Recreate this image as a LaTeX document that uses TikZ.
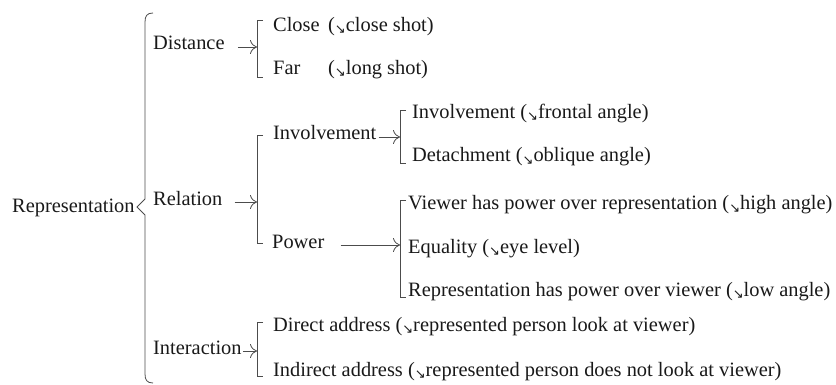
\documentclass[tikz,border=0pt]{standalone}
\usepackage{fontspec}
\setmainfont{LiberationSerif}[Extension=.ttf, UprightFont=*-Regular, BoldFont=*-Bold, ItalicFont=*-Italic, BoldItalicFont=*-BoldItalic]
\newfontfamily\dejavu{DejaVu Sans}
\usetikzlibrary{arrows.meta}
\newcommand{\sarr}{\raisebox{-2pt}{\fontsize{13}{13}\selectfont\dejavu ↘}}
\begin{document}
\begin{tikzpicture}[x=1pt,y=-1pt,
  txt/.style={inner sep=0pt, anchor=base west, font=\rmfamily\fontsize{20.4}{24}\selectfont, text=black!90},
  ln/.style={line width=0.8pt, draw=black!70},
  arr/.style={ln, -{To[length=7pt,width=14pt]}}]
\useasboundingbox (0,0) rectangle (836,385);
% texts
\node[txt] (rep) at (12,212) {Representation};
\node[txt] (dist) at (153,50) {Distance};
\node[txt] (rel) at (153,205) {Relation};
\node[txt] (inter) at (153,354) {Interaction};
\node[txt] (close) at (273,32) {Close};
\node[txt] (closeP) at (328,32) {(\sarr close shot)};
\node[txt] (far) at (273,75) {Far};
\node[txt] (farP) at (328,75) {(\sarr long shot)};
\node[txt] (inv) at (273,140) {Involvement};
\node[txt] (pow) at (272,248) {Power};
\node[txt] (invf) at (412,119) {Involvement (\sarr frontal angle)};
\node[txt] (det) at (412,162) {Detachment (\sarr oblique angle)};
\node[txt] (view) at (408,210) {Viewer has power over representation (\sarr high angle)};
\node[txt] (eq) at (408,253) {Equality (\sarr eye level)};
\node[txt] (rhp) at (408,296) {Representation has power over viewer (\sarr low angle)};
\node[txt] (dir) at (273,331) {Direct address (\sarr represented person look at viewer)};
\node[txt] (ind) at (273,376) {Indirect address (\sarr represented person does not look at viewer)};
% big brace
\draw[ln] (153,13) .. controls (147,13) and (145,16) .. (145,22) -- (145,199) -- (137,207) -- (145,215) -- (145,374) .. controls (145,380) and (147,383) .. (153,383);
% brackets
\draw[ln] (263,20) -- (257,20) -- (257,77) -- (263,77);
\draw[ln] (263,135) -- (257,135) -- (257,243) -- (263,243);
\draw[ln] (263,322) -- (257,322) -- (257,376) -- (263,376);
\draw[ln] (406,110) -- (400,110) -- (400,163) -- (406,163);
\draw[ln] (406,200) -- (400,200) -- (400,297) -- (406,297);
% arrow targets
\coordinate (bD) at (257,47);
\coordinate (bR) at (257,202);
\coordinate (bI) at (257,351);
\coordinate (bV) at (400,137);
\coordinate (bP) at (400,245);
\draw[arr] ([xshift=13pt,yshift=3pt]dist.base east) -- (bD);
\draw[arr] ([xshift=12pt,yshift=3pt]rel.base east) -- (bR);
\draw[arr] ([xshift=1pt,yshift=3pt]inter.base east) -- (bI);
\draw[arr] ([xshift=2pt,yshift=3pt]inv.base east) -- (bV);
\draw[arr] ([xshift=16pt,yshift=3pt]pow.base east) -- (bP);
\end{tikzpicture}
\end{document}
